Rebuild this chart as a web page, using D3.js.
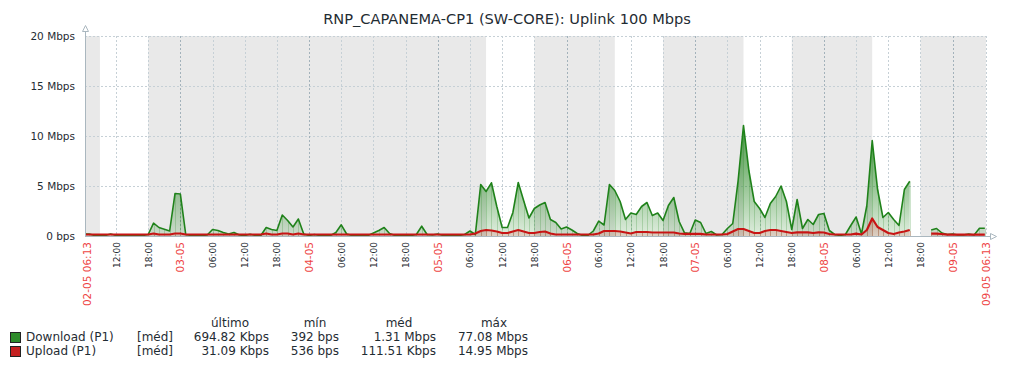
<!DOCTYPE html>
<html>
<head>
<meta charset="utf-8">
<script src="https://cdn.jsdelivr.net/npm/d3@7"></script>
<style>
	body { margin: 0; background: #fff; }
	svg { display: block; font-family: 'DejaVu Sans', sans-serif; }
</style>
</head>
<body>
<svg id="graph" width="1016" height="368"></svg>
<script>
const title = 'RNP_CAPANEMA-CP1 (SW-CORE): Uplink 100 Mbps'
const periodStart = new Date(2025, 4, 2, 6, 13)
const periodEnd = new Date(2025, 4, 9, 6, 13)
const firstSample = new Date(2025, 4, 2, 6, 0)
const workDays = ['2025-05-02', '2025-05-05', '2025-05-06', '2025-05-07', '2025-05-08']
const yTicks = [0, 5, 10, 15, 20]
const yTickLabels = ['0 bps', '5 Mbps', '10 Mbps', '15 Mbps', '20 Mbps']

// hourly averages in Mbps, one row per day starting at 06:00 of 02-05
const download = [
	0.15, 0.15, 0, 0, 0, 0.15, 0, 0, 0, 0, 0, 0, 0.1, 1.23, 0.8, 0.62, 0.45, 4.2, 4.15, 0.1, 0, 0, 0, 0.05,
	0.6, 0.5, 0.3, 0.15, 0.3, 0.05, 0, 0.13, 0, 0, 0.8, 0.6, 0.5, 2.05, 1.5, 0.85, 1.65, 0.15, 0, 0.1, 0, 0, 0, 0.3,
	1.07, 0.15, 0, 0, 0, 0, 0.25, 0.5, 0.8, 0.2, 0, 0, 0, 0, 0.1, 0.93, 0.1, 0.05, 0.15, 0, 0, 0, 0, 0.1,
	0.45, 0.1, 5.1, 4.4, 5.27, 2.9, 0.8, 0.8, 2.3, 5.3, 3.5, 1.75, 2.7, 3.05, 3.3, 1.6, 1.3, 0.65, 0.85, 0.55, 0.2, 0, 0.02, 0.45,
	1.43, 1.05, 5.1, 4.5, 3.4, 1.6, 2.25, 2.1, 2.9, 3.3, 2.0, 2.25, 1.5, 3.0, 3.8, 1.4, 0.27, 0.2, 1.55, 1.3, 0.2, 0.4, 0.05, 0.1,
	0.7, 1.2, 5.5, 11.0, 6.5, 3.4, 2.7, 1.8, 3.2, 3.9, 4.95, 3.4, 0.6, 3.6, 0.7, 1.6, 1.1, 2.1, 2.2, 0.5, 0.1, 0, 0.1, 1.0,
	1.85, 0.15, 3.0, 9.5, 4.6, 1.8, 2.3, 1.6, 1.0, 4.6, 5.43, null, null, null, 0.55, 0.7, 0.25, 0.1, 0.15, 0.05, 0.05, 0.15, 0.05, 0.73, 0.73,
]
const upload = [
	0.05, 0.05, 0.05, 0.05, 0.05, 0.05, 0.05, 0.05, 0.05, 0.05, 0.05, 0.05, 0.05, 0.15, 0.05, 0.05, 0.05, 0.15, 0.15, 0.05, 0.05, 0.05, 0.05, 0.05,
	0.05, 0.05, 0.05, 0.05, 0.05, 0.05, 0.05, 0.05, 0.05, 0.05, 0.15, 0.05, 0.05, 0.15, 0.15, 0.05, 0.15, 0.05, 0.05, 0.05, 0.05, 0.05, 0.05, 0.05,
	0.05, 0.05, 0.05, 0.05, 0.05, 0.05, 0.05, 0.05, 0.05, 0.05, 0.05, 0.05, 0.05, 0.05, 0.05, 0.05, 0.05, 0.05, 0.05, 0.05, 0.05, 0.05, 0.05, 0.05,
	0.05, 0.15, 0.4, 0.5, 0.45, 0.35, 0.2, 0.2, 0.35, 0.5, 0.35, 0.2, 0.2, 0.3, 0.35, 0.15, 0.05, 0.05, 0.05, 0.05, 0.05, 0.05, 0.05, 0.05,
	0.15, 0.4, 0.4, 0.4, 0.35, 0.25, 0.15, 0.3, 0.3, 0.3, 0.25, 0.25, 0.25, 0.25, 0.25, 0.15, 0.12, 0.12, 0.12, 0.12, 0.05, 0.05, 0.05, 0.05,
	0.1, 0.35, 0.6, 0.6, 0.4, 0.2, 0.2, 0.4, 0.5, 0.5, 0.4, 0.3, 0.2, 0.27, 0.27, 0.27, 0.2, 0.27, 0.25, 0.1, 0.05, 0.05, 0.05, 0.05,
	0.13, 0.05, 0.5, 1.65, 0.8, 0.5, 0.2, 0.1, 0.25, 0.35, 0.5, null, null, null, 0.13, 0.13, 0.1, 0.04, 0.04, 0.04, 0.04, 0.04, 0.04, 0.04, 0.04,
]

const seriesNames = ['Download (P1)', 'Upload (P1)']
const seriesColors = ['#1f821a', '#c81414']
const legendColors = ['#2e8b2a', '#c42020']
const legendFunc = ['[méd]', '[méd]']
const legendHeads = ['último', 'mín', 'méd', 'máx']
const lastValues = ['694.82 Kbps', '31.09 Kbps']
const minValues = ['392 bps', '536 bps']
const avgValues = ['1.31 Mbps', '111.51 Kbps']
const maxValues = ['77.08 Mbps', '14.95 Mbps']

const svg = d3.select('#graph')
const plotL = 85, plotR = 986, plotT = 36, plotB = 236
const textColor = '#1f2c33'

const x = d3.scaleTime().domain([periodStart, periodEnd]).range([plotL, plotR])
const y = d3.scaleLinear().domain([0, 20]).range([plotB, plotT])

svg.append('text')
	.attr('x', 507).attr('y', 24)
	.attr('text-anchor', 'middle')
	.attr('font-size', '14.6px')
	.attr('fill', textColor)
	.text(title)

const defs = svg.append('defs')
defs.append('clipPath').attr('id', 'plot')
	.append('rect').attr('x', plotL).attr('y', plotT - 2).attr('width', plotR - plotL).attr('height', plotB - plotT + 2)

const mkGradient = (id, color) => {
	const g = defs.append('linearGradient').attr('id', id)
		.attr('gradientUnits', 'userSpaceOnUse')
		.attr('x1', 0).attr('x2', 0).attr('y1', plotB).attr('y2', plotT)
	;[[0, 0.14], [0.25, 0.46], [0.55, 0.8], [1, 1]].forEach(([o, a]) => {
		g.append('stop').attr('offset', o).attr('stop-color', color).attr('stop-opacity', a)
	})
}
seriesColors.forEach((c, i) => mkGradient('grad' + i, c))

// background: non-working time grey, working hours white
svg.append('rect')
	.attr('x', plotL).attr('y', plotT).attr('width', plotR - plotL).attr('height', plotB - plotT)
	.attr('fill', '#e9e9e9')
const parseDay = d3.timeParse('%Y-%m-%d')
svg.append('g').selectAll('rect')
	.data(workDays.map(parseDay))
	.enter()
	.append('rect')
	.attr('x', (d) => Math.max(plotL, x(d3.timeHour.offset(d, 9))))
	.attr('width', (d) => Math.min(plotR, x(d3.timeHour.offset(d, 18))) - Math.max(plotL, x(d3.timeHour.offset(d, 9))))
	.attr('y', plotT).attr('height', plotB - plotT)
	.attr('fill', '#fff')

// grid (skip a 6h tick that would crowd the end label)
const hourTicks = d3.timeHour.every(6).range(periodStart, periodEnd)
	.filter((t) => periodEnd - t > 3 * 3600e3)
const isDay = (d) => d.getHours() === 0
const gGrid = svg.append('g').attr('stroke-dasharray', '2,2').attr('stroke-width', 1)
gGrid.selectAll('line.h')
	.data(yTicks.filter((v) => v > 0))
	.enter()
	.append('line')
	.attr('x1', plotL).attr('x2', plotR)
	.attr('y1', (d) => Math.round(y(d)) + 0.5).attr('y2', (d) => Math.round(y(d)) + 0.5)
	.attr('stroke', '#c6d0d6')
gGrid.selectAll('line.v')
	.data(hourTicks.concat([periodEnd]))
	.enter()
	.append('line')
	.attr('x1', (d) => Math.round(x(d)) + 0.5).attr('x2', (d) => Math.round(x(d)) + 0.5)
	.attr('y1', plotT).attr('y2', plotB)
	.attr('stroke', (d) => isDay(d) ? '#a3b2bb' : '#c6d0d6')

// series
const times = download.map((_, i) => d3.timeHour.offset(firstSample, i))
const plot = svg.append('g').attr('clip-path', 'url(#plot)')

const drawSeries = (values, idx) => {
	const pts = values.map((v, i) => ({ t: times[i], v }))
	const defined = (d) => d.v !== null
	const area = d3.area().defined(defined)
		.x((d) => x(d.t)).y0(plotB).y1((d) => y(d.v))
	const line = d3.line().defined(defined)
		.x((d) => x(d.t)).y((d) => y(d.v) - (idx === 1 ? 1 : 0.5))
	const g = plot.append('g')
	g.append('path').datum(pts)
		.attr('d', area)
		.attr('fill', `url(#grad${idx})`)
	g.selectAll('line')
		.data(pts.filter((d) => d.v !== null && d.v > 0.05))
		.enter()
		.append('line')
		.attr('x1', (d) => Math.round(x(d.t)) + 0.5).attr('x2', (d) => Math.round(x(d.t)) + 0.5)
		.attr('y1', (d) => y(d.v)).attr('y2', plotB)
		.attr('stroke', seriesColors[idx]).attr('stroke-opacity', 0.22)
	g.append('path').datum(pts)
		.attr('d', line)
		.attr('fill', 'none')
		.attr('stroke', seriesColors[idx])
		.attr('stroke-width', idx === 1 ? 2.2 : 1.6)
		.attr('stroke-linejoin', 'round')
}
drawSeries(download, 0)
drawSeries(upload, 1)

// axes
const axisColor = '#aab7bf'
svg.append('line')
	.attr('x1', plotL + 0.5).attr('x2', plotL + 0.5).attr('y1', 31).attr('y2', plotB + 1)
	.attr('stroke', axisColor)
svg.append('polygon')
	.attr('points', `${plotL - 2.5},31.5 ${plotL + 0.5},25.5 ${plotL + 3.5},31.5`)
	.attr('fill', '#fff').attr('stroke', axisColor)
svg.append('line')
	.attr('x1', plotL).attr('x2', 990).attr('y1', plotB + 0.5).attr('y2', plotB + 0.5)
	.attr('stroke', axisColor)
svg.append('polygon')
	.attr('points', `990.5,${plotB - 2.5} 996.5,${plotB + 0.5} 990.5,${plotB + 3.5}`)
	.attr('fill', '#fff').attr('stroke', axisColor)

svg.append('g').selectAll('text')
	.data(yTicks)
	.enter()
	.append('text')
	.attr('x', 75)
	.attr('y', (d) => y(d) + 4)
	.attr('text-anchor', 'end')
	.attr('font-size', '10.5px')
	.attr('fill', textColor)
	.text((d, i) => yTickLabels[i])

// x labels
const fmtDay = d3.timeFormat('%d-%m')
const fmtHour = d3.timeFormat('%H:%M')
const fmtFull = d3.timeFormat('%d-%m %H:%M')
const xLabels = [{ t: periodStart, text: fmtFull(periodStart), main: true, dx: 6 }]
	.concat(hourTicks.map((t) => ({ t, text: isDay(t) ? fmtDay(t) : fmtHour(t), main: isDay(t), dx: isDay(t) ? 4 : 3.5 })))
	.concat([{ t: periodEnd, text: fmtFull(periodEnd), main: true, dx: 4 }])
svg.append('g').selectAll('text')
	.data(xLabels)
	.enter()
	.append('text')
	.attr('transform', (d) => `translate(${x(d.t) + d.dx},242) rotate(-90)`)
	.attr('text-anchor', 'end')
	.attr('font-size', (d) => d.main ? '10.5px' : '9px')
	.attr('fill', (d) => d.main ? '#ee4444' : textColor)
	.text((d) => d.text)

// legend
const gLegend = svg.append('g').attr('font-size', '12px').attr('fill', textColor)
const colX = [269, 339, 436, 528]
const headX = [230, 315, 399, 494]
legendHeads.forEach((h, i) => {
	gLegend.append('text').attr('x', headX[i]).attr('y', 327).attr('text-anchor', 'middle').text(h)
})
seriesNames.forEach((name, i) => {
	const yy = 341 + i * 14
	gLegend.append('rect')
		.attr('x', 10.5).attr('y', yy - 8.5).attr('width', 10).attr('height', 10)
		.attr('fill', legendColors[i]).attr('stroke', '#222')
	gLegend.append('text').attr('x', 26).attr('y', yy).text(name)
	gLegend.append('text').attr('x', 137).attr('y', yy).text(legendFunc[i])
	;[lastValues, minValues, avgValues, maxValues].forEach((arr, j) => {
		gLegend.append('text').attr('x', colX[j]).attr('y', yy).attr('text-anchor', 'end').text(arr[i])
	})
})
</script>
</body>
</html>
